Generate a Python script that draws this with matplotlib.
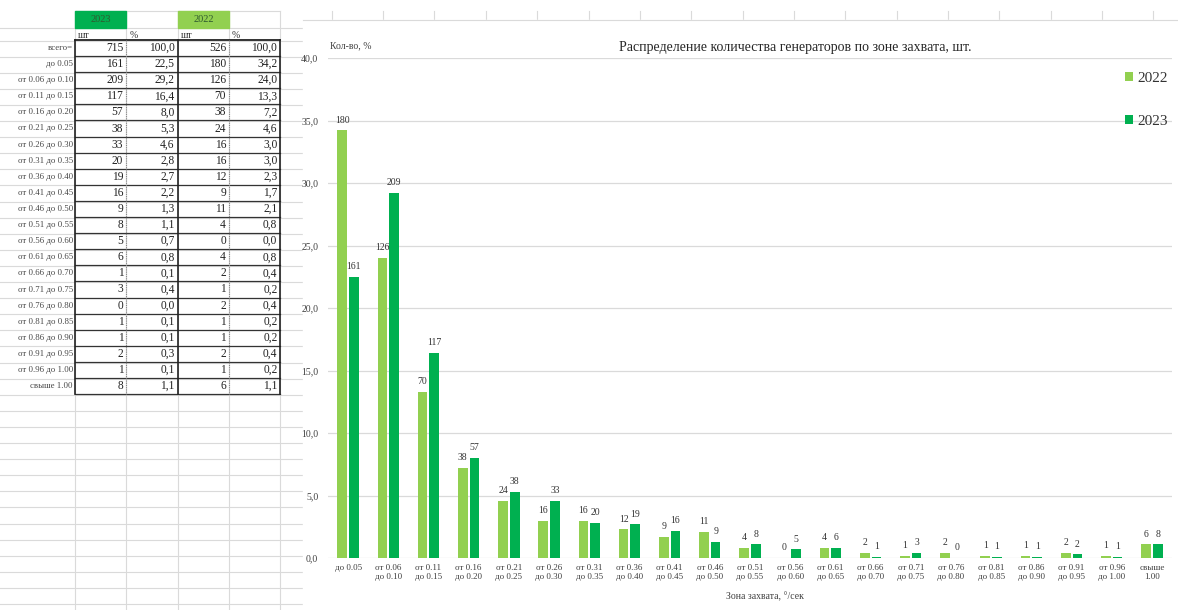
import numpy as np
import matplotlib
matplotlib.use("Agg")
import matplotlib.pyplot as plt
from matplotlib.patches import Rectangle
from matplotlib.ticker import FuncFormatter

plt.rcParams['font.family'] = ['Liberation Serif', 'DejaVu Serif']

# zone ranges (table rows and chart categories)
zones = ["до 0.05", "от 0.06 до 0.10", "от 0.11 до 0.15", "от 0.16 до 0.20",
         "от 0.21 до 0.25", "от 0.26 до 0.30", "от 0.31 до 0.35", "от 0.36 до 0.40",
         "от 0.41 до 0.45", "от 0.46 до 0.50", "от 0.51 до 0.55", "от 0.56 до 0.60",
         "от 0.61 до 0.65", "от 0.66 до 0.70", "от 0.71 до 0.75", "от 0.76 до 0.80",
         "от 0.81 до 0.85", "от 0.86 до 0.90", "от 0.91 до 0.95", "от 0.96 до 1.00",
         "свыше 1.00"]
cnt_2023 = [161, 209, 117, 57, 38, 33, 20, 19, 16, 9, 8, 5, 6, 1, 3, 0, 1, 1, 2, 1, 8]
pct_2023 = [22.5, 29.2, 16.4, 8.0, 5.3, 4.6, 2.8, 2.7, 2.2, 1.3, 1.1, 0.7, 0.8, 0.1,
            0.4, 0.0, 0.1, 0.1, 0.3, 0.1, 1.1]
cnt_2022 = [180, 126, 70, 38, 24, 16, 16, 12, 9, 11, 4, 0, 4, 2, 1, 2, 1, 1, 2, 1, 6]
pct_2022 = [34.2, 24.0, 13.3, 7.2, 4.6, 3.0, 3.0, 2.3, 1.7, 2.1, 0.8, 0.0, 0.8, 0.4,
            0.2, 0.4, 0.2, 0.2, 0.4, 0.2, 1.1]
total_2023, total_pct_2023 = 715, 100.0
total_2022, total_pct_2022 = 526, 100.0

c22 = '#92D050'
c23 = '#00B050'
grid_c = '#dadada'

def comma(v):
    return f"{v:.1f}".replace('.', ',')

W, H = 1178, 610
fig = plt.figure(figsize=(W / 100, H / 100), dpi=100)

# background "spreadsheet" in pixel coords
bg = fig.add_axes([0, 0, 1, 1])
bg.set_xlim(0, W)
bg.set_ylim(H, 0)
bg.axis('off')

col_x = [75 + k * 51.35 for k in range(22)]
row0 = 48          # centre of "всего=" row
rh = 16.1
row_lines = [28, 40.5] + [40.5 + (i + 1) * rh for i in range(40)]
for y in row_lines:
    bg.plot([0, W], [y, y], color=grid_c, lw=0.8, zorder=1)
bg.plot([col_x[0], col_x[4]], [11, 11], color=grid_c, lw=0.8, zorder=1)
for x in col_x:
    bg.plot([x, x], [11, H], color=grid_c, lw=0.8, zorder=1)

# header cells
bg.add_patch(Rectangle((col_x[0], 11), col_x[1] - col_x[0], 17, color=c23, zorder=2))
bg.add_patch(Rectangle((col_x[2], 11), col_x[3] - col_x[2], 17, color=c22, zorder=2))
bg.text((col_x[0] + col_x[1]) / 2, 19.5, "2023", ha='center', va='center',
        fontsize=7.5, color='#2f5a2f', zorder=3)
bg.text((col_x[2] + col_x[3]) / 2, 19.5, "2022", ha='center', va='center',
        fontsize=7.5, color='#2f5a2f', zorder=3)
for k, t in enumerate(["шт", "%", "шт", "%"]):
    bg.text(col_x[k] + 3, 35, t, ha='left', va='center', fontsize=7,
            color='#333333', zorder=3)

# table body
labels = ["всего="] + zones
c23_col = [total_2023] + cnt_2023
p23_col = [total_pct_2023] + pct_2023
c22_col = [total_2022] + cnt_2022
p22_col = [total_pct_2022] + pct_2022
for i, lab in enumerate(labels):
    y = row0 + i * rh
    bg.text(col_x[0] - 2, y, lab, ha='right', va='center', fontsize=6.3,
            color='#444444', zorder=3)
    vals = [str(c23_col[i]), comma(p23_col[i]), str(c22_col[i]), comma(p22_col[i])]
    for k, v in enumerate(vals):
        bg.text(col_x[k + 1] - 3, y, v, ha='right', va='center', fontsize=8.3,
                color='#222222', zorder=3)
    yb = y + rh / 2
    bg.plot([col_x[0], col_x[4]], [yb, yb], color='#333333', lw=0.9, zorder=3)
ytop = row0 - rh / 2
ybot = row0 + (len(labels) - 0.5) * rh
bg.plot([col_x[0], col_x[4]], [ytop, ytop], color='#222222', lw=1.3, zorder=3)
for k in [0, 2, 4]:
    bg.plot([col_x[k], col_x[k]], [ytop, ybot], color='#222222', lw=1.2, zorder=3)
for k in [1, 3]:
    bg.plot([col_x[k], col_x[k]], [ytop, ybot], color='#888888', lw=0.8,
            ls=(0, (1, 1)), zorder=3)

# chart area (white) covering the grid
bg.add_patch(Rectangle((303, 20), W - 303, H - 20, color='white', zorder=4))
bg.plot([303, W], [20, 20], color=grid_c, lw=0.8, zorder=5)

bg.text(795, 48, "Распределение количества генераторов по зоне захвата, шт.",
        ha='center', va='center', fontsize=10, color='#262626', zorder=6)
bg.text(330, 46, "Кол-во, %", ha='left', va='center', fontsize=7,
        color='#404040', zorder=6)
bg.text(765, 597, "Зона захвата, °/сек", ha='center', va='center', fontsize=7,
        color='#404040', zorder=6)

# the chart
ax = fig.add_axes([328 / W, 1 - 558 / H, (1172 - 328) / W, 500 / H])
ax.set_facecolor('none')
x = np.arange(len(zones))
bw = 0.24
off = 0.145
b22 = ax.bar(x - off, pct_2022, bw, color=c22, label='2022', zorder=3)
b23 = ax.bar(x + off, pct_2023, bw, color=c23, label='2023', zorder=3)
ax.bar_label(b22, labels=[str(v) for v in cnt_2022], padding=4, fontsize=7,
             color='#333333')
ax.bar_label(b23, labels=[str(v) for v in cnt_2023], padding=4, fontsize=7,
             color='#333333')

ax.set_xlim(-0.5, len(zones) - 0.5)
ax.set_ylim(0, 40)
ax.set_yticks(np.arange(0, 41, 5))
ax.yaxis.set_major_formatter(FuncFormatter(lambda v, p: comma(v)))
ax.yaxis.grid(True, color=grid_c, lw=0.9, zorder=0)
ax.set_xticks(x)
ax.set_xticklabels([z.replace(" до", "\nдо").replace("свыше ", "свыше\n") for z in zones],
                   fontsize=6.5, color='#404040', linespacing=1.25)
ax.tick_params(axis='both', length=0)
ax.tick_params(axis='y', labelsize=7, labelcolor='#404040', pad=7)
ax.tick_params(axis='x', pad=4)
for s in ax.spines.values():
    s.set_visible(False)

ax.legend(handles=[b22, b23], loc='upper left', bbox_to_anchor=(1111 / W, 1 - 58 / H),
          bbox_transform=fig.transFigure, frameon=False, fontsize=11,
          handlelength=0.55, handleheight=0.55, handletextpad=0.3,
          labelspacing=1.95, labelcolor='#333333')

fig.savefig('out.png', dpi=100)
